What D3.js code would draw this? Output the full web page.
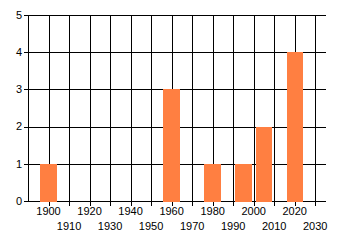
<!DOCTYPE html>
<html>
<head>
<meta charset="utf-8">
<script src="https://cdn.jsdelivr.net/npm/d3@7"></script>
<style>
  body { margin: 0; background: #fff; }
  svg { display: block; }
  text { font-family: "Liberation Sans", Arial, sans-serif; font-size: 11px; fill: #000; }
</style>
</head>
<body>
<svg id="chart" width="340" height="245"></svg>
<script>
// data
const years = [1900, 1960, 1980, 1995, 2005, 2020];
const counts = [1, 3, 1, 1, 2, 4];

const xTickYears = [1900, 1910, 1920, 1930, 1940, 1950, 1960, 1970, 1980, 1990, 2000, 2010, 2020, 2030];
const yTickValues = [0, 1, 2, 3, 4, 5];

const svg = d3.select("#chart");

// scales (plot area: x 28..326, y 15..201)
const x = d3.scaleLinear().domain([1890, 2035]).range([28, 325.5]);
const y = d3.scaleLinear().domain([0, 5]).range([201, 15]);
const px = v => Math.round(v) + 0.5;

const grid = svg.append("g")
    .attr("stroke", "#000")
    .attr("stroke-width", 1)
    .attr("shape-rendering", "crispEdges");

// horizontal gridlines + left ticks
grid.selectAll("line.h")
    .data(yTickValues)
    .enter()
    .append("line")
    .attr("class", "h")
    .attr("x1", 24)
    .attr("x2", 326)
    .attr("y1", d => px(y(d)))
    .attr("y2", d => px(y(d)));

// vertical gridlines + bottom ticks
grid.selectAll("line.v")
    .data(xTickYears)
    .enter()
    .append("line")
    .attr("class", "v")
    .attr("x1", d => px(x(d)))
    .attr("x2", d => px(x(d)))
    .attr("y1", px(y(5)))
    .attr("y2", px(y(0)) + 4);

// left axis line
grid.append("line")
    .attr("x1", px(x(1890)))
    .attr("x2", px(x(1890)))
    .attr("y1", px(y(5)))
    .attr("y2", px(y(0)));

// bars, 8 years wide
svg.append("g")
    .selectAll("rect")
    .data(years.map((yr, i) => ({ yr, v: counts[i] })))
    .enter()
    .append("rect")
    .attr("x", d => Math.round(x(d.yr - 4)))
    .attr("width", d => Math.round(x(d.yr + 4)) - Math.round(x(d.yr - 4)))
    .attr("y", d => Math.round(y(d.v)))
    .attr("height", d => Math.round(y(0)) - Math.round(y(d.v)) + 1)
    .attr("fill", "#ff7f41")
    .attr("shape-rendering", "crispEdges");

// y labels
svg.append("g")
    .selectAll("text")
    .data(yTickValues)
    .enter()
    .append("text")
    .attr("x", 22)
    .attr("y", d => y(d))
    .attr("dy", "0.35em")
    .attr("text-anchor", "end")
    .text(d => d);

// x labels, staggered on two rows
svg.append("g")
    .selectAll("text")
    .data(xTickYears)
    .enter()
    .append("text")
    .attr("x", d => x(d))
    .attr("y", (d, i) => i % 2 === 0 ? 215 : 230)
    .attr("text-anchor", "middle")
    .text(d => d);
</script>
</body>
</html>
